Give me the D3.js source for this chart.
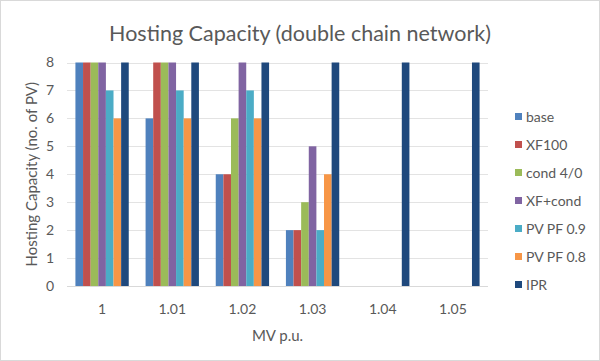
<html>
<head>
<style>
    body { margin: 0; }
    text { font-family: Lato, "Open Sans", sans-serif; fill: #595959; }
</style>
</head>
<body>
<svg id="container" width="600" height="361"></svg>
<script src="https://d3js.org/d3.v7.min.js"></script>
<script>
// chart data
let categories = ["1", "1.01", "1.02", "1.03", "1.04", "1.05"]
let seriesNames = ["base", "XF100", "cond 4/0", "XF+cond", "PV PF 0.9", "PV PF 0.8", "IPR"]
let seriesColors = ["#4F81BD", "#C0504D", "#9BBB59", "#8064A2", "#4BACC6", "#F79646", "#1F497D"]
let base     = [8, 6, 4, 2, 0, 0]
let xf100    = [8, 8, 4, 2, 0, 0]
let cond40   = [8, 8, 6, 3, 0, 0]
let xfCond   = [8, 8, 8, 5, 0, 0]
let pvPf09   = [7, 7, 7, 2, 0, 0]
let pvPf08   = [6, 6, 6, 4, 0, 0]
let ipr      = [8, 8, 8, 8, 8, 8]
let yTicks   = [0, 1, 2, 3, 4, 5, 6, 7, 8]

let values = [base, xf100, cond40, xfCond, pvPf09, pvPf08, ipr]

let svg = d3.select("#container")

// outer border
svg.append("rect")
    .attr("x", 0.5).attr("y", 0.5)
    .attr("width", 599).attr("height", 360)
    .attr("fill", "white")
    .attr("stroke", "#d9d9d9")

let plotLeft = 67, plotRight = 488, plotTop = 62.5, plotBottom = 286

let xScale = d3.scaleBand()
    .domain(categories)
    .range([plotLeft, plotRight])
    .paddingInner(0.24)
    .paddingOuter(0.12)

let xInner = d3.scaleBand()
    .domain(seriesNames)
    .range([0, xScale.bandwidth()])

let yScale = d3.scaleLinear()
    .domain([0, 8])
    .range([plotBottom, plotTop])

// gridlines
svg.append("g")
    .selectAll("line")
    .data(yTicks)
    .join("line")
    .attr("x1", plotLeft).attr("x2", plotRight)
    .attr("y1", d => Math.round(yScale(d)) + 0.5).attr("y2", d => Math.round(yScale(d)) + 0.5)
    .attr("stroke", d => d == 0 ? "#d9d9d9" : "#e3e3e3")
    .attr("stroke-width", 1)

// bars
let groups = svg.append("g")
    .selectAll("g")
    .data(seriesNames)
    .join("g")
    .attr("fill", (d, i) => seriesColors[i])

groups.selectAll("rect")
    .data((s, i) => categories.map((c, j) => ({ cat: c, series: s, value: values[i][j] })))
    .join("rect")
    .attr("x", d => xScale(d.cat) + xInner(d.series))
    .attr("width", xInner.bandwidth())
    .attr("y", d => yScale(d.value))
    .attr("height", d => plotBottom - yScale(d.value))

// y axis labels
let yAxis = svg.append("g")
    .attr("transform", "translate(" + (plotLeft - 9) + ",0)")
    .call(d3.axisLeft(yScale).tickValues(yTicks).tickSize(0).tickPadding(4))
yAxis.select(".domain").remove()
yAxis.selectAll("text")
    .style("font-size", "14px")
    .style("font-family", "Lato, 'Open Sans', sans-serif")
    .attr("fill", "#595959")

// x axis labels
let xAxis = svg.append("g")
    .attr("transform", "translate(0," + plotBottom + ")")
    .call(d3.axisBottom(xScale).tickSize(0).tickPadding(18))
xAxis.select(".domain").remove()
xAxis.selectAll("text")
    .style("font-size", "14px")
    .style("font-family", "Lato, 'Open Sans', sans-serif")
    .attr("fill", "#595959")

// title
svg.append("text")
    .attr("x", 300).attr("y", 41)
    .attr("text-anchor", "middle")
    .style("font-size", "21.5px")
    .text("Hosting Capacity (double chain network)")

// axis titles
svg.append("text")
    .attr("x", (plotLeft + plotRight) / 2).attr("y", 341)
    .attr("text-anchor", "middle")
    .style("font-size", "15px")
    .text("MV p.u.")

svg.append("text")
    .attr("transform", "rotate(-90)")
    .attr("x", -(plotTop + plotBottom) / 2).attr("y", 37)
    .attr("text-anchor", "middle")
    .style("font-size", "15px")
    .text("Hosting Capacity (no. of PV)")

// legend
let legend = svg.append("g")
    .selectAll("g")
    .data(seriesNames)
    .join("g")
    .attr("transform", (d, i) => "translate(515," + (117 + i * 28) + ")")

legend.append("rect")
    .attr("x", 0).attr("y", -4)
    .attr("width", 7).attr("height", 7)
    .attr("fill", (d, i) => seriesColors[i])

legend.append("text")
    .attr("x", 11).attr("y", 0)
    .attr("dy", "0.35em")
    .style("font-size", "14px")
    .text(d => d)
</script>
</body>
</html>
